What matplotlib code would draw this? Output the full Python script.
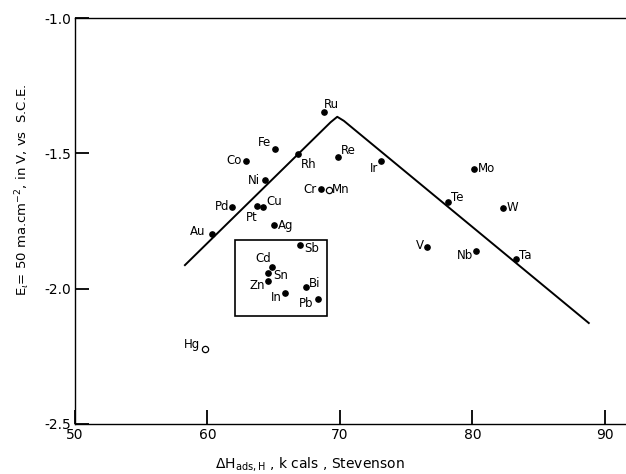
import matplotlib
matplotlib.use("Agg")
import matplotlib.pyplot as plt
from matplotlib.patches import Rectangle

plt.rcParams['font.family'] = ['DejaVu Sans']
plt.rcParams['axes.unicode_minus'] = False

# metals: name, dH_ads (kcal), E (V vs SCE)
metals = ['Ru', 'Fe', 'Co', 'Rh', 'Re', 'Ir', 'Ni', 'Pd', 'Pt', 'Cu', 'Au', 'Ag',
          'Cr', 'Sb', 'Cd', 'Sn', 'Zn', 'In', 'Bi', 'Pb',
          'Mo', 'Te', 'W', 'V', 'Nb', 'Ta']
dh = [68.79, 65.09, 62.91, 66.83, 69.85, 73.09, 64.34, 61.85, 63.74, 64.19, 60.34, 65.02,
      68.57, 66.98, 64.87, 64.57, 64.57, 65.85, 67.43, 68.34,
      80.11, 78.15, 82.30, 76.57, 80.26, 83.28]
e_val = [-1.349, -1.485, -1.530, -1.504, -1.515, -1.530, -1.600, -1.699, -1.696, -1.699, -1.799, -1.766,
         -1.633, -1.839, -1.921, -1.943, -1.972, -2.017, -1.994, -2.039,
         -1.559, -1.681, -1.703, -1.847, -1.862, -1.891]

# open symbols
open_metals = ['Mn', 'Hg']
open_dh = [69.17, 59.81]
open_e = [-1.637, -2.223]

# volcano line
line_x = [58.3, 69.3, 69.8, 70.3, 88.79]
line_y = [-1.913, -1.385, -1.365, -1.38, -2.127]

# label offsets (pixels) from the point
offsets = {
    'Ru': (8, 8), 'Fe': (-10, 7), 'Co': (-12, 1), 'Rh': (11, -10), 'Re': (10, 7),
    'Ir': (-7, -7), 'Ni': (-11, 0), 'Pd': (-10, 1), 'Pt': (-5, -11), 'Cu': (11, 6),
    'Au': (-14, 3), 'Ag': (12, 0), 'Cr': (-11, 0), 'Mn': (12, 1), 'Sb': (12, -3),
    'Cd': (-9, 9), 'Sn': (13, -2), 'Zn': (-11, -4), 'In': (-9, -4), 'Bi': (9, 4),
    'Pb': (-12, -4), 'Hg': (-13, 5), 'Mo': (13, 1), 'Te': (9, 5), 'W': (10, 1),
    'V': (-7, 2), 'Nb': (-11, -4), 'Ta': (9, 4),
}

fig = plt.figure(figsize=(6.26, 4.74), dpi=100)
ax = fig.add_axes([75 / 626, 1 - 424 / 474, 551 / 626, 406 / 474])

ax.plot(line_x, line_y, color='black', lw=1.4)
ax.plot(dh, e_val, 'o', color='black', ms=3.8, ls='none')
ax.plot(open_dh, open_e, 'o', mfc='white', mec='black', mew=0.9, ms=4.5, ls='none')

for name, x, y in zip(metals + open_metals, dh + open_dh, e_val + open_e):
    dx, dy = offsets[name]
    ax.annotate(name, (x, y), xytext=(dx, dy), textcoords='offset pixels',
                ha='center', va='center', fontsize=8.5)

# box round the p-block metals
ax.add_patch(Rectangle((62.08, -2.101), 69.02 - 62.08, 2.101 - 1.821,
                       fill=False, ec='black', lw=1.2))

ax.set_xlim(50, 91.6)
ax.set_ylim(-2.5, -1.0)
ax.set_xticks([50, 60, 70, 80, 90])
ax.set_yticks([-2.5, -2.0, -1.5, -1.0])
ax.set_yticklabels(['-2.5', '-2.0', '-1.5', '-1.0'])
ax.xaxis.set_tick_params(which='major', direction='in', length=10, width=1.3,
                         color='black', labelsize=10, pad=3, bottom=True, top=False)
ax.yaxis.set_tick_params(which='major', direction='in', length=10, width=1.3,
                         color='black', labelsize=10, pad=3, left=True, right=False)
ax.spines['right'].set_visible(False)
for s in ['left', 'bottom', 'top']:
    ax.spines[s].set_linewidth(1.0)

ax.set_xlabel(r'$\Delta$H$_{\mathrm{ads,H}}$ , k cals , Stevenson', fontsize=10)
ax.xaxis.set_label_coords(0.426, -0.076)
ax.set_ylabel(r'E$_{\iota}$= 50 ma.cm$^{-2}$, in V, vs  S.C.E.', fontsize=9.5)
ax.yaxis.set_label_coords(-0.078, 0.576)

fig.savefig('out.png', dpi=100)
